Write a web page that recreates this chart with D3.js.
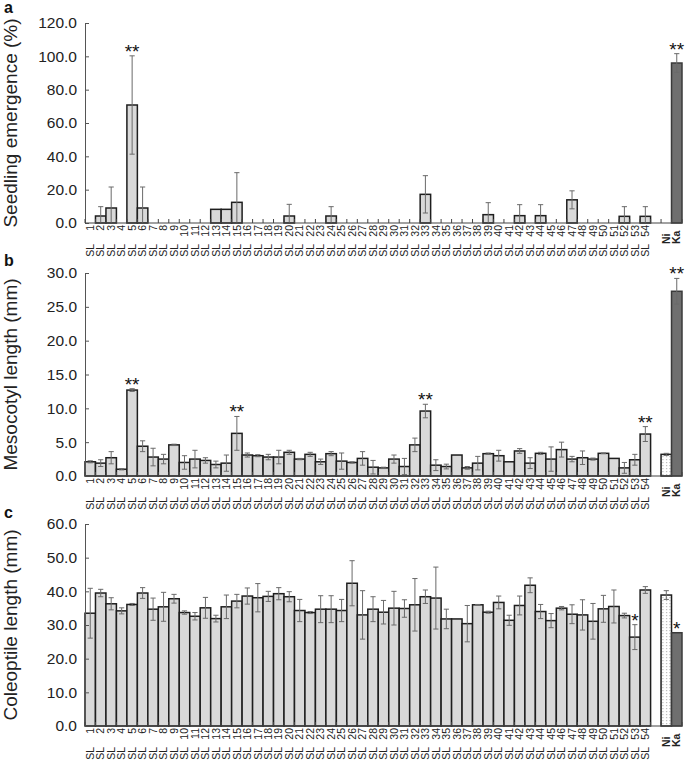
<!DOCTYPE html>
<html><head><meta charset="utf-8">
<script src="https://cdn.jsdelivr.net/npm/d3@7"></script>
<style>body{margin:0;background:#fff}svg{display:block}</style>
</head><body>
<svg id="chart" width="685" height="760"></svg>
<script>
// ---------------- data ----------------
const lines = d3.range(1, 55).map(i => "SL " + i);
const groups = [...lines, "Ni", "Ka"];             // 56 groups with values
const categories = [...lines, "gap", "Ni", "Ka"];  // x slots (blank slot before controls)

// a: Seedling emergence (%)
const emergence = [
  0, 4.2, 9.0, 0, 70.8, 9.0, 0, 0, 0, 0,
  0, 0, 8.2, 8.2, 12.4, 0, 0, 0, 0, 4.2,
  0, 0, 0, 4.2, 0, 0, 0, 0, 0, 0,
  0, 0, 17.2, 0, 0, 0, 0, 0, 5.0, 0,
  0, 4.4, 0, 4.4, 0, 0, 13.9, 0, 0, 0,
  0, 4.0, 0, 4.0,
  0, 96.0];
const emergenceErr = [
  0, 5.6, 12.6, 0, 29.5, 12.6, 0, 0, 0, 0,
  0, 0, 0, 0, 17.8, 0, 0, 0, 0, 7.0,
  0, 0, 0, 5.6, 0, 0, 0, 0, 0, 0,
  0, 0, 11.2, 0, 0, 0, 0, 0, 7.2, 0,
  0, 6.6, 0, 6.6, 0, 0, 5.4, 0, 0, 0,
  0, 5.8, 0, 5.8,
  0, 5.6];

// b: Mesocotyl length (mm)
const mesocotyl = [
  2.1, 1.9, 2.7, 1.0, 12.7, 4.4, 2.8, 2.5, 4.6, 2.0,
  2.5, 2.3, 1.7, 1.9, 6.3, 3.1, 3.0, 2.8, 2.8, 3.5,
  2.5, 3.2, 2.1, 3.3, 2.2, 2.0, 2.6, 1.3, 1.2, 2.5,
  1.4, 4.6, 9.6, 1.6, 1.4, 3.1, 1.2, 1.9, 3.3, 3.0,
  2.1, 3.7, 1.9, 3.35, 2.5, 3.9, 2.5, 2.7, 2.5, 3.35,
  2.6, 1.2, 2.4, 6.2,
  3.2, 27.3];
const mesocotylErr = [
  0.15, 0.5, 0.9, 0.1, 0.2, 0.8, 1.3, 0.7, 0.1, 1.0,
  1.3, 0.4, 0.5, 1.2, 2.5, 0.3, 0.15, 0.4, 1.0, 0.3,
  0.1, 0.3, 0.4, 0.3, 1.2, 0.1, 1.0, 1.0, 0.1, 0.6,
  1.2, 1.0, 1.0, 0.8, 0.35, 0, 0.2, 1.0, 0.1, 0.8,
  0, 0.35, 0.8, 0.15, 1.8, 1.1, 0.4, 1.0, 0.15, 0.05,
  0, 0.8, 0.8, 1.1,
  0.15, 1.9];

// c: Coleoptile length (mm)
const coleoptile = [
  33.5, 39.5, 36.3, 34.2, 36.1, 39.5, 34.7, 35.4, 37.8, 33.7,
  32.6, 35.1, 31.9, 35.4, 37.1, 38.6, 38.1, 38.5, 39.3, 38.4,
  34.3, 33.7, 34.7, 34.7, 34.3, 42.4, 33.0, 34.7, 33.8, 35.0,
  34.9, 36.0, 38.4, 38.0, 31.8, 31.8, 30.4, 36.0, 33.8, 36.7,
  31.4, 35.8, 41.8, 34.0, 31.3, 35.0, 33.2, 33.0, 31.1, 34.8,
  35.5, 32.8, 26.4, 40.4,
  38.9, 27.7];
const coleoptileErr = [
  7.4, 1.1, 1.8, 0.9, 0.3, 1.6, 3.3, 4.3, 1.3, 0.5,
  1.1, 3.1, 1.0, 3.5, 2.0, 2.4, 4.2, 1.5, 1.8, 1.5,
  3.3, 0.3, 4.0, 4.0, 3.3, 6.7, 7.2, 3.7, 3.5, 5.0,
  2.6, 7.8, 2.0, 9.2, 2.9, 0, 5.4, 0.1, 0.3, 1.9,
  1.5, 2.8, 2.2, 2.1, 2.1, 0.5, 2.8, 4.5, 5.3, 4.0,
  4.9, 0.7, 3.7, 1.0,
  1.3, 0];

// significance marks
const sigA = ["SL 5", "Ka"];
const sigB = ["SL 5", "SL 15", "SL 33", "SL 54", "Ka"];
const sigC = ["SL 53", "Ka"];

// y-axis tick labels
const ticksA = [0, 20, 40, 60, 80, 100, 120];
const ticksB = [0, 5, 10, 15, 20, 25, 30];
const ticksC = [0, 10, 20, 30, 40, 50, 60];

// ---------------- drawing ----------------
const svg = d3.select("#chart");
const FONT = "'Liberation Sans', Arial, Helvetica, sans-serif";

const defs = svg.append("defs");
const pat = defs.append("pattern").attr("id", "dots")
  .attr("patternUnits", "userSpaceOnUse").attr("width", 3.5).attr("height", 3);
pat.append("rect").attr("width", 3.5).attr("height", 3).attr("fill", "#fff");
pat.append("rect").attr("x", 1).attr("y", 0).attr("width", 1).attr("height", 1.2).attr("fill", "#a8a8a8");

const x = d3.scaleBand().domain(categories).range([85, 682]).padding(0);

function panel(cfg) {
  const g = svg.append("g");
  const y = d3.scaleLinear().domain([0, d3.max(cfg.ticks)]).range([cfg.yBottom, cfg.yTop]);
  const data = groups.map((c, i) => ({c, v: cfg.vals[i], e: cfg.errs[i]}));

  // bars
  g.selectAll("rect.bar").data(data.filter(d => d.v > 0)).join("rect")
    .attr("class", "bar")
    .attr("x", d => x(d.c))
    .attr("width", x.bandwidth())
    .attr("y", d => y(d.v))
    .attr("height", d => y(0) - y(d.v))
    .attr("fill", d => d.c === "Ka" ? "#6f6f6f" : d.c === "Ni" ? "url(#dots)" : "#d9d9d9")
    .attr("stroke", d => d.c === "Ka" ? "#3a3a3a" : "#1e1e1e")
    .attr("stroke-width", 1.5);

  // error bars
  const eb = data.filter(d => d.e > 0);
  const cap = 2.6;
  const eg = g.append("g").attr("stroke", "#6a6a6a").attr("stroke-width", 1).attr("fill", "none");
  eg.selectAll("line.v").data(eb).join("line")
    .attr("x1", d => x(d.c) + x.bandwidth() / 2).attr("x2", d => x(d.c) + x.bandwidth() / 2)
    .attr("y1", d => y(Math.max(0, d.v - d.e))).attr("y2", d => y(d.v + d.e));
  eg.selectAll("line.t").data(eb).join("line")
    .attr("x1", d => x(d.c) + x.bandwidth() / 2 - cap).attr("x2", d => x(d.c) + x.bandwidth() / 2 + cap)
    .attr("y1", d => y(d.v + d.e)).attr("y2", d => y(d.v + d.e));
  eg.selectAll("line.b").data(eb.filter(d => d.v - d.e > 0)).join("line")
    .attr("x1", d => x(d.c) + x.bandwidth() / 2 - cap).attr("x2", d => x(d.c) + x.bandwidth() / 2 + cap)
    .attr("y1", d => y(d.v - d.e)).attr("y2", d => y(d.v - d.e));

  // significance
  g.selectAll("text.sig").data(data.filter(d => cfg.sig.includes(d.c))).join("text")
    .attr("x", d => x(d.c) + x.bandwidth() / 2)
    .attr("y", d => y(d.v + d.e) + 2)
    .attr("text-anchor", "middle")
    .attr("font-family", FONT).attr("font-size", 19).attr("fill", "#111")
    .text(cfg.mark);

  // y axis
  const ya = g.append("g").attr("transform", "translate(85,0)")
    .call(d3.axisLeft(y).tickValues(cfg.ticks).tickFormat(d3.format(".1f"))
      .tickSizeInner(-4).tickSizeOuter(0).tickPadding(8));
  ya.select(".domain").attr("stroke", "#555");
  ya.selectAll(".tick line").attr("stroke", "#555");
  ya.selectAll(".tick text").attr("font-family", FONT).attr("font-size", 15.5).attr("fill", "#222");

  // x axis line + ticks at slot boundaries
  const y0 = y(0);
  g.append("line").attr("x1", 85).attr("x2", 682).attr("y1", y0).attr("y2", y0)
    .attr("stroke", "#444").attr("stroke-width", 1);
  const bounds = categories.map(c => x(c)).concat([x.range()[1]]);
  g.selectAll("line.xt").data(bounds).join("line")
    .attr("x1", d => d).attr("x2", d => d).attr("y1", y0).attr("y2", y0 - 4)
    .attr("stroke", "#444").attr("stroke-width", 1);

  // x labels
  const lab = g.append("g").attr("font-family", FONT).attr("font-size", 10.5).attr("fill", "#222");
  lines.forEach(c => {
    const cx = x(c) + x.bandwidth() / 2;
    lab.append("text").attr("transform", `translate(${cx},${y0 + 2}) rotate(-90)`)
      .attr("text-anchor", "end").attr("dy", "0.35em").text(c.split(" ")[1]);
    lab.append("text").attr("transform", `translate(${cx},${y0 + 21}) rotate(-90)`)
      .attr("text-anchor", "end").attr("dy", "0.35em").text(c.split(" ")[0]);
  });
  ["Ni", "Ka"].forEach(c => {
    const cx = x(c) + x.bandwidth() / 2;
    lab.append("text").attr("transform", `translate(${cx},${y0 + 21}) rotate(-90)`)
      .attr("text-anchor", "start").attr("dy", "0.35em").attr("font-weight", "bold").text(c);
  });

  // y title
  g.append("text")
    .attr("transform", `translate(17,${(cfg.yTop + cfg.yBottom) / 2}) rotate(-90)`)
    .attr("text-anchor", "middle").attr("font-family", FONT).attr("font-size", 19).attr("fill", "#222")
    .text(cfg.title);

  // panel letter
  g.append("text").attr("x", 4).attr("y", cfg.letterY)
    .attr("font-family", FONT).attr("font-size", 16).attr("font-weight", "bold").attr("fill", "#111")
    .text(cfg.letter);
}

panel({vals: emergence, errs: emergenceErr, ticks: ticksA, yTop: 23, yBottom: 223,
  title: "Seedling emergence (%)", letter: "a", letterY: 13, sig: sigA, mark: "**"});
panel({vals: mesocotyl, errs: mesocotylErr, ticks: ticksB, yTop: 273, yBottom: 476,
  title: "Mesocotyl length (mm)", letter: "b", letterY: 266, sig: sigB, mark: "**"});
panel({vals: coleoptile, errs: coleoptileErr, ticks: ticksC, yTop: 524, yBottom: 726,
  title: "Coleoptile length (mm)", letter: "c", letterY: 518, sig: sigC, mark: "*"});
</script>
</body></html>
